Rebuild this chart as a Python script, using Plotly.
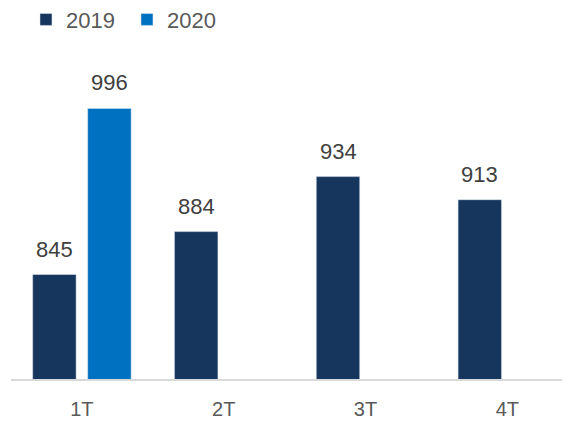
import plotly.graph_objects as go

quarters = ["1T", "2T", "3T", "4T"]
values_2019 = [845, 884, 934, 913]
values_2020 = [996, None, None, None]

c2019 = "#17365D"
c2020 = "#0070C0"
font_family = "Liberation Sans, Arial, sans-serif"

fig = go.Figure()
fig.add_trace(go.Bar(name="2019", x=quarters, y=values_2019, marker_color=c2019))
fig.add_trace(go.Bar(name="2020", x=quarters, y=values_2020, marker_color=c2020))

# value labels
for q, v in zip(quarters, values_2019):
    if v is not None:
        fig.add_annotation(x=q, y=v, text=str(v), showarrow=False, xshift=-27.5,
                           yanchor="bottom", yshift=11,
                           font=dict(size=22, color="#404040", family=font_family))
for q, v in zip(quarters, values_2020):
    if v is not None:
        fig.add_annotation(x=q, y=v, text=str(v), showarrow=False, xshift=27.5,
                           yanchor="bottom", yshift=11,
                           font=dict(size=22, color="#404040", family=font_family))

# the page body has an 8px margin, so the figure is sized and offset for it
fig.update_layout(
    width=562, height=415,
    margin=dict(l=3, r=1, t=96, b=44),
    barmode="group", bargap=0.224, bargroupgap=0.21,
    plot_bgcolor="white", paper_bgcolor="white",
    font=dict(family=font_family, size=22, color="#595959"),
    showlegend=True,
    legend=dict(orientation="h", xref="container", yref="container",
                x=0.032, y=0.972, xanchor="left", yanchor="middle",
                entrywidth=56,
                font=dict(size=22, color="#595959"), traceorder="normal"),
    xaxis=dict(range=[-0.5, 3.435], showline=True, linecolor="#D9D9D9", linewidth=2,
               ticks="", showgrid=False, ticklabelstandoff=11,
               tickfont=dict(size=20, color="#595959")),
    yaxis=dict(range=[750, 1000], visible=False, showgrid=False),
)

fig.write_html("out.html")
